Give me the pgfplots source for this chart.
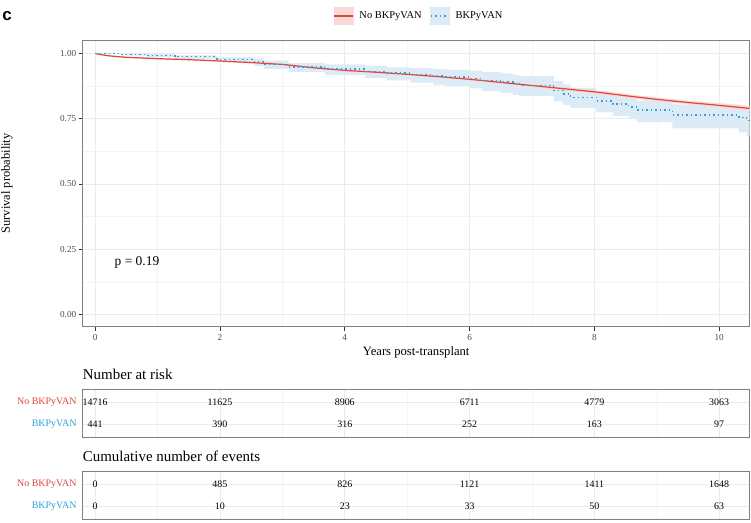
\documentclass[border=0pt]{standalone}
\usepackage{fontspec}
\setmainfont{Liberation Serif}
\newfontfamily\lsans{Liberation Sans}
\usepackage{pgfplots}
\pgfplotsset{compat=1.18}
\usepackage{pgfplotstable}

\definecolor{nored}{HTML}{E0453A}
\definecolor{bkblue}{HTML}{2E9FDF}
\definecolor{redfill}{HTML}{F9DAD6}
\definecolor{bluefill}{HTML}{DCEBF6}
\definecolor{gridc}{HTML}{EBEBEB}
\definecolor{gridm}{HTML}{F4F4F4}
\definecolor{tickc}{HTML}{4D4D4D}
\definecolor{framec}{HTML}{808080}

% No BKPyVAN: time, survival
\pgfplotstableread{
t s
0 1.000
0.1 0.995
0.25 0.990
0.5 0.985
1 0.980
1.5 0.976
2 0.971
2.5 0.965
3 0.958
3.5 0.945
4 0.935
4.5 0.928
5 0.920
5.5 0.911
6 0.901
6.5 0.889
7 0.877
7.5 0.865
8 0.853
8.5 0.838
9 0.824
9.5 0.812
10 0.801
10.5 0.789
}\redkm

% No BKPyVAN confidence band: upper bound forward, lower bound back
\pgfplotstableread{
t y
0 1.000
0.1 0.996
0.25 0.992
0.5 0.987
1 0.982
1.5 0.978
2 0.974
2.5 0.968
3 0.961
3.5 0.948
4 0.939
4.5 0.932
5 0.924
5.5 0.915
6 0.906
6.5 0.894
7 0.882
7.5 0.871
8 0.859
8.5 0.845
9 0.831
9.5 0.819
10 0.809
10.5 0.798
10.5 0.780
10 0.793
9.5 0.805
9 0.817
8.5 0.831
8 0.847
7.5 0.859
7 0.872
6.5 0.884
6 0.896
5.5 0.907
5 0.916
4.5 0.924
4 0.931
3.5 0.942
3 0.955
2.5 0.962
2 0.968
1.5 0.974
1 0.978
0.5 0.983
0.25 0.988
0.1 0.994
0 1.000
}\redband

% BKPyVAN: step curve
\pgfplotstableread{
t s
0 1.000
0.42 0.996
0.82 0.992
1.28 0.987
1.95 0.978
2.55 0.968
2.70 0.958
3.10 0.948
3.68 0.940
4.33 0.932
4.68 0.925
5.05 0.919
5.42 0.913
5.62 0.910
6.00 0.904
6.20 0.896
6.50 0.890
6.70 0.884
6.80 0.878
7.35 0.858
7.50 0.845
7.62 0.832
8.03 0.818
8.30 0.806
8.55 0.795
8.68 0.783
9.25 0.764
10.32 0.754
10.44 0.744
10.5 0.744
}\bluekm

% BKPyVAN confidence band (step): upper forward, lower back
\pgfplotstableread{
t y
0 1.000
0.42 0.999
0.82 0.997
1.28 0.993
1.95 0.987
2.55 0.981
2.70 0.972
3.10 0.964
3.68 0.958
4.33 0.953
4.68 0.947
5.05 0.944
5.42 0.940
5.62 0.938
6.00 0.934
6.20 0.928
6.50 0.924
6.70 0.918
6.80 0.913
7.35 0.894
7.50 0.881
7.62 0.868
8.03 0.854
8.30 0.842
8.55 0.832
8.68 0.820
9.25 0.805
10.32 0.800
10.44 0.794
10.5 0.794
10.5 0.682
10.44 0.697
10.32 0.713
9.25 0.737
8.68 0.749
8.55 0.761
8.30 0.774
8.03 0.791
7.62 0.803
7.50 0.816
7.35 0.836
6.80 0.841
6.70 0.848
6.50 0.856
6.20 0.866
6.00 0.875
5.62 0.879
5.42 0.888
5.05 0.897
4.68 0.906
4.33 0.917
3.68 0.928
3.10 0.941
2.70 0.952
2.55 0.967
1.95 0.979
1.28 0.986
0.82 0.992
0.42 1.000
0 1.000
}\blueband

% Number at risk (row 2 = No BKPyVAN, row 1 = BKPyVAN)
\pgfplotstableread{
t r v
0 2 14716
2 2 11625
4 2 8906
6 2 6711
8 2 4779
10 2 3063
0 1 441
2 1 390
4 1 316
6 1 252
8 1 163
10 1 97
}\risk

% Cumulative number of events
\pgfplotstableread{
t r v
0 2 0
2 2 485
4 2 826
6 2 1121
8 2 1411
10 2 1648
0 1 0
2 1 10
4 1 23
6 1 33
8 1 50
10 1 63
}\events

\pgfplotsset{
  kmbase/.style={
    scale only axis, width=667bp,
    xmin=-0.2, xmax=10.49,
    xtick={0,2,4,6,8,10}, minor xtick={1,3,5,7,9},
    grid=both,
    major grid style={gridc, line width=0.6bp},
    minor grid style={gridm, line width=0.4bp},
    axis line style={framec, line width=0.6bp},
    /pgf/number format/assume math mode=true,
  },
  tablebase/.style={
    kmbase, height=48bp,
    ymin=0.4, ymax=2.6, ytick={1,2},
    yticklabels={\textcolor{bkblue}{BKPyVAN},\textcolor{nored}{No BKPyVAN}},
    xticklabels={},
    major tick length=0pt, minor tick length=0pt,
    ytick pos=left,
    yticklabel style={font=\fontsize{10}{12}\selectfont, inner sep=0pt, anchor=east, xshift=-6bp},
    clip=false,
    title style={at={(0,1)}, anchor=base west, inner sep=0pt, yshift=3.5bp, font=\fontsize{15}{18}\selectfont},
  },
  tabnums/.style={only marks, mark=none, nodes near coords, point meta=explicit symbolic,
    nodes near coords style={font=\fontsize{10}{12}\selectfont, anchor=center, inner sep=0pt, text=black}},
}

\begin{document}
\begin{tikzpicture}
\useasboundingbox (0,0) rectangle (751bp,-523bp);
\node[font=\lsans\bfseries\fontsize{17}{20}\selectfont, anchor=center] at (7bp,-16bp) {c};

\begin{axis}[kmbase,
  at={(82.7bp,-326.7bp)}, anchor=south west, height=286.7bp,
  ymin=-0.0475, ymax=1.0515,
  ytick={0,0.25,0.5,0.75,1}, yticklabels={0.00,0.25,0.50,0.75,1.00},
  minor ytick={0.125,0.375,0.625,0.875},
  xtick pos=bottom, ytick pos=left,
  tick align=outside, major tick length=4bp, minor tick length=0pt,
  tick style={color=black!80, line width=0.6bp},
  ticklabel style={font=\fontsize{9.2}{11}\selectfont, text=tickc},
  xticklabel style={yshift=-0.3bp},
  yticklabel style={xshift=1bp},
  xlabel={Years post-transplant},
  ylabel={Survival probability},
  xlabel style={at={(axis description cs:0.5,-0.091)}, anchor=center, font=\fontsize{12.7}{15}\selectfont},
  ylabel style={at={(axis description cs:-0.1135,0.5)}, anchor=center, font=\fontsize{12.5}{15}\selectfont},
  legend style={at={(axis description cs:0.504,1.0837)}, anchor=center, draw=none, fill=none,
    legend columns=2, font=\fontsize{10.5}{12}\selectfont,
    /tikz/every even column/.append style={column sep=6bp}},
  legend cell align=left,
]
\addlegendimage{legend image code/.code={
  \fill[redfill] (0bp,-8.5bp) rectangle (19bp,8.5bp);
  \draw[nored, line width=1.2bp] (0bp,0bp) -- (19bp,0bp);}}
\addlegendentry{\hspace{4bp}No BKPyVAN}
\addlegendimage{legend image code/.code={
  \fill[bluefill] (0bp,-8.5bp) rectangle (19bp,8.5bp);
  \draw[bkblue, line width=1.3bp, dash pattern=on 1.5bp off 3bp] (1bp,0bp) -- (19bp,0bp);}}
\addlegendentry{\hspace{4bp}BKPyVAN}

\addplot[draw=none, fill=bluefill, const plot, forget plot] table[x=t, y=y] {\blueband} -- cycle;
\addplot[draw=none, fill=redfill, forget plot] table[x=t, y=y] {\redband} -- cycle;

\addplot[nored, line width=1.2bp, forget plot] table[x=t, y=s] {\redkm};
\addplot[bkblue, line width=1.3bp, dash pattern=on 1.5bp off 3bp, const plot, forget plot] table[x=t, y=s] {\bluekm};

\node[anchor=west, font=\fontsize{13.5}{16}\selectfont, inner sep=0pt] at (axis cs:0.31,0.197) {p = 0.19};
\end{axis}

\begin{axis}[tablebase, at={(82.7bp,-437bp)}, anchor=south west, title={Number at risk}]
\addplot[tabnums] table[x=t, y=r, meta=v] {\risk};
\end{axis}

\begin{axis}[tablebase, at={(82.7bp,-519bp)}, anchor=south west, title={Cumulative number of events}]
\addplot[tabnums] table[x=t, y=r, meta=v] {\events};
\end{axis}
\end{tikzpicture}
\end{document}
